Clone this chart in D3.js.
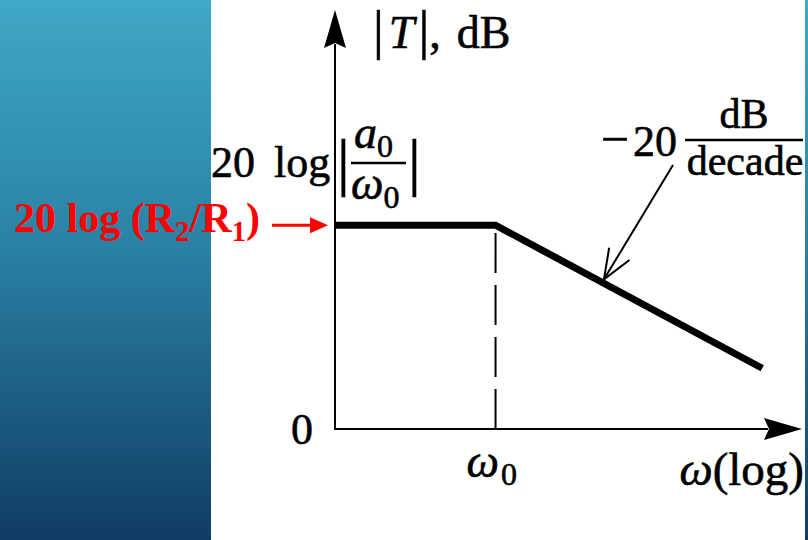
<!DOCTYPE html>
<html>
<head>
<meta charset="utf-8">
<script src="https://cdn.jsdelivr.net/npm/d3@7"></script>
<style>
  html, body { margin: 0; padding: 0; background: #fff; }
  svg { display: block; }
  text { font-family: "Liberation Serif", "Times New Roman", serif; fill: #000; }
  text.ink { stroke: #000; stroke-width: 0.6px; }
</style>
</head>
<body>
<script>
// Asymptotic Bode magnitude of a single-pole low-pass stage.
// Frequencies are given relative to the corner ω0 (ω0 = 1).
const omegaPoints = [0.25, 1, 10];        // start, corner, end of the asymptote
const gainDbPoints = [28.5, 28.5, 8.5];   // flat gain, then −20 dB/decade
const omegaDomain = [0.25, 14.1];         // log frequency axis extent
const gainDomain = [0, 58.6];             // dB axis extent
const cornerOmega = 1;
const slopeLabelOmega = 2.55;             // where the slope callout points

const W = 808, H = 540;
const svg = d3.select("body").append("svg").attr("width", W).attr("height", H);

// background: gradient side panel and thin strip at the right edge
const defs = svg.append("defs");
const grad = defs.append("linearGradient").attr("id", "panel")
  .attr("x1", 0).attr("y1", 0).attr("x2", 0).attr("y2", 1);
grad.append("stop").attr("offset", "0%").attr("stop-color", "#3fa8c6");
grad.append("stop").attr("offset", "45%").attr("stop-color", "#2a82a4");
grad.append("stop").attr("offset", "100%").attr("stop-color", "#103c64");
svg.append("rect").attr("x", 0).attr("y", 0).attr("width", 211).attr("height", H).attr("fill", "url(#panel)");
svg.append("rect").attr("x", 805).attr("y", 0).attr("width", 3).attr("height", H).attr("fill", "url(#panel)");

const x = d3.scaleLog().domain(omegaDomain).range([335, 802]);
const y = d3.scaleLinear().domain(gainDomain).range([429, 10]);

const x0 = x(omegaDomain[0]), x1 = x(omegaDomain[1]);
const y0 = y(gainDomain[0]), y1 = y(gainDomain[1]);

// axes with filled arrowheads
const headLen = 38, headHalf = 11;
svg.append("line").attr("x1", x0).attr("y1", y0).attr("x2", x1 - headLen + 4).attr("y2", y0)
  .attr("stroke", "#000").attr("stroke-width", 2);
svg.append("line").attr("x1", x0).attr("y1", y0 + 1).attr("x2", x0).attr("y2", y1 + headLen - 4)
  .attr("stroke", "#000").attr("stroke-width", 2);
svg.append("path")
  .attr("d", `M${x1},${y0} L${x1 - headLen},${y0 - headHalf} L${x1 - headLen + 5},${y0} L${x1 - headLen},${y0 + headHalf} Z`)
  .attr("fill", "#000");
svg.append("path")
  .attr("d", `M${x0},${y1} L${x0 - headHalf},${y1 + headLen} L${x0},${y1 + headLen - 5} L${x0 + headHalf},${y1 + headLen} Z`)
  .attr("fill", "#000");

// dashed marker at the corner frequency
svg.append("line")
  .attr("x1", x(cornerOmega)).attr("y1", y0)
  .attr("x2", x(cornerOmega)).attr("y2", y(gainDbPoints[1]))
  .attr("stroke", "#000").attr("stroke-width", 2)
  .attr("stroke-dasharray", "40,12");

// magnitude asymptote
const pts = omegaPoints.map((w, i) => [w, gainDbPoints[i]]);
svg.append("path")
  .datum(pts)
  .attr("d", d3.line().x(d => x(d[0])).y(d => y(d[1])))
  .attr("fill", "none").attr("stroke", "#000").attr("stroke-width", 7)
  .attr("stroke-linejoin", "miter").attr("stroke-linecap", "butt");

// axis labels
const fs = 44;
const yl = svg.append("text").attr("class", "ink").attr("x", 373).attr("y", 48).attr("font-size", 46);
yl.append("tspan").attr("font-size", 54).text("|");
yl.append("tspan").attr("font-style", "italic").attr("dx", 5).text("T");
yl.append("tspan").attr("font-size", 54).attr("dx", 4).text("|");
yl.append("tspan").text(",");
yl.append("tspan").attr("dx", 16).text("dB");

svg.append("text").attr("class", "ink").attr("x", x0 - 44).attr("y", y0 + 15).attr("font-size", fs).text("0");

const wl = svg.append("text").attr("class", "ink").attr("x", x(cornerOmega) - 29).attr("y", 477).attr("font-size", 46);
wl.append("tspan").attr("font-style", "italic").text("ω");
wl.append("tspan").attr("font-size", 32).attr("dx", 2).attr("dy", 8).text("0");

const xl = svg.append("text").attr("class", "ink").attr("x", 804).attr("y", 485).attr("font-size", 47).attr("text-anchor", "end");
xl.append("tspan").attr("font-style", "italic").text("ω");
xl.append("tspan").text("(log)");

// flat-gain label: 20 log|a0/ω0|
svg.append("text").attr("class", "ink").attr("x", 211).attr("y", 177).attr("font-size", fs).attr("word-spacing", 8).text("20 log");
svg.append("text").attr("class", "ink").attr("x", 337).attr("y", 183).attr("font-size", 64).text("|");
svg.append("text").attr("class", "ink").attr("x", 408).attr("y", 183).attr("font-size", 64).text("|");
const num = svg.append("text").attr("class", "ink").attr("x", 354).attr("y", 148).attr("font-size", 46);
num.append("tspan").attr("font-style", "italic").text("a");
num.append("tspan").attr("font-size", 32).attr("dy", 9).text("0");
svg.append("line").attr("x1", 351).attr("x2", 406).attr("y1", 163).attr("y2", 163)
  .attr("stroke", "#000").attr("stroke-width", 2.5);
const den = svg.append("text").attr("class", "ink").attr("x", 351).attr("y", 199).attr("font-size", 46);
den.append("tspan").attr("font-style", "italic").text("ω");
den.append("tspan").attr("font-size", 32).attr("dy", 9).text("0");

// slope callout: −20 dB/decade
const sl = svg.append("text").attr("class", "ink").attr("x", 677).attr("y", 156).attr("font-size", 44).attr("text-anchor", "end");
sl.append("tspan").attr("font-size", 50).text("−");
sl.append("tspan").attr("dx", 4).text("20");
svg.append("text").attr("class", "ink").attr("x", 744).attr("y", 128).attr("font-size", 42).attr("text-anchor", "middle").text("dB");
svg.append("line").attr("x1", 685).attr("x2", 803).attr("y1", 140).attr("y2", 140)
  .attr("stroke", "#000").attr("stroke-width", 2.5);
svg.append("text").attr("class", "ink").attr("x", 745).attr("y", 175).attr("font-size", 42).attr("text-anchor", "middle").text("decade");

// callout leader with an open arrowhead touching the sloped asymptote
const slopeAt = w => {
  const t = (Math.log10(w) - Math.log10(omegaPoints[1])) / (Math.log10(omegaPoints[2]) - Math.log10(omegaPoints[1]));
  return gainDbPoints[1] + t * (gainDbPoints[2] - gainDbPoints[1]);
};
const tipX = x(slopeLabelOmega), tipY = y(slopeAt(slopeLabelOmega)) - 4;
const startX = 673, startY = 165;
svg.append("line").attr("x1", startX).attr("y1", startY).attr("x2", tipX).attr("y2", tipY)
  .attr("stroke", "#000").attr("stroke-width", 2);
const ang = Math.atan2(tipY - startY, tipX - startX);
const barb = 32, spread = 0.38;
const bx = a => tipX - barb * Math.cos(ang + a), by = a => tipY - barb * Math.sin(ang + a);
svg.append("path")
  .attr("d", `M${bx(spread)},${by(spread)} L${tipX},${tipY} L${bx(-spread)},${by(-spread)}`)
  .attr("fill", "none").attr("stroke", "#000").attr("stroke-width", 2);

// red annotation for the inverting amplifier gain
const red = svg.append("text").attr("x", 14).attr("y", 232).attr("font-size", 42)
  .attr("font-weight", "bold").style("fill", "#ff0000");
red.append("tspan").text("20 log (R");
red.append("tspan").attr("font-size", 29).attr("dy", 9).text("2");
red.append("tspan").attr("dy", -9).text("/R");
red.append("tspan").attr("font-size", 29).attr("dy", 9).text("1");
red.append("tspan").attr("dy", -9).text(")");

const ay = y(gainDbPoints[0]);
svg.append("line").attr("x1", 272).attr("x2", 316).attr("y1", ay).attr("y2", ay)
  .attr("stroke", "#ff0000").attr("stroke-width", 3);
svg.append("path").attr("d", `M328,${ay} L310,${ay - 8} L310,${ay + 8} Z`).attr("fill", "#ff0000");
</script>
</body>
</html>
